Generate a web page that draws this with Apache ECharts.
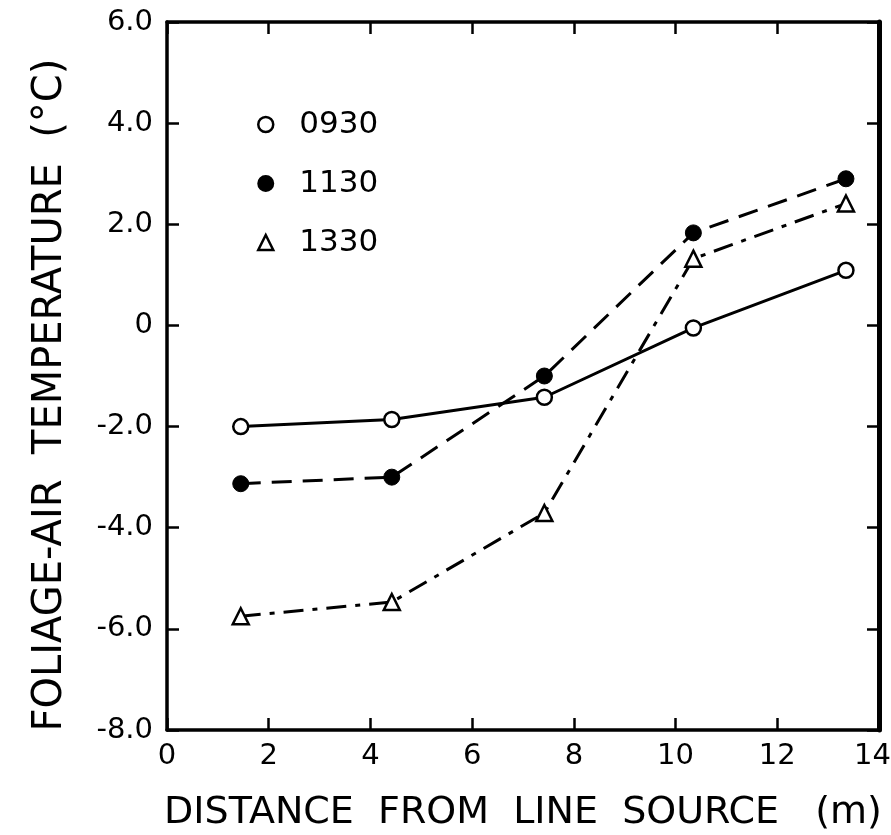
<!DOCTYPE html>
<html>
<head>
<meta charset="utf-8">
<script src="https://cdn.jsdelivr.net/npm/echarts@6/dist/echarts.min.js"></script>
<style>html,body{margin:0;padding:0;background:#fff;}#c{width:891px;height:835px;}</style>
</head>
<body>
<div id="c"></div>
<script>
const distance = [1.45, 4.42, 7.42, 10.35, 13.35];
const t0930 = [-2.0, -1.86, -1.42, -0.05, 1.09];
const t1130 = [-3.13, -3.0, -1.0, 1.83, 2.9];
const t1330 = [-5.75, -5.47, -3.71, 1.32, 2.41];
const seriesNames = ['0930', '1130', '1330'];
const xTicks = [0, 2, 4, 6, 8, 10, 12, 14];
const yTicks = [-8, -6, -4, -2, 0, 2, 4, 6];

const pairs = (xs, ys) => xs.map((x, i) => [x, ys[i]]);
const FONT = 'DejaVu Sans';
const chart = echarts.init(document.getElementById('c'), null, {renderer: 'canvas'});

const axisCommon = {
  axisLine: {show: true, onZero: false, lineStyle: {color: '#000', width: 3.5}},
  axisTick: {show: true, inside: true, length: 12, lineStyle: {color: '#000', width: 2.5}},
  splitLine: {show: false}
};

const openStyle = {color: '#fff', borderColor: '#000', borderWidth: 2.5};
const fillStyle = {color: '#000', borderColor: '#000', borderWidth: 1};
const xMax = xTicks[xTicks.length - 1];

chart.setOption({
  backgroundColor: '#fff',
  animation: false,
  grid: {left: 167, right: 12, top: 22, bottom: 105, containLabel: false, outerBoundsMode: 'none'},
  legend: {
    orient: 'vertical', left: 252, top: 104, itemGap: 28,
    itemWidth: 15, itemHeight: 15,
    textStyle: {fontFamily: FONT, fontSize: 31, color: '#000', padding: [0, 0, 0, 21]},
    data: [
      {name: '0930', icon: 'circle', itemStyle: openStyle},
      {name: '1130', icon: 'circle', itemStyle: {color: '#000'}},
      {name: '1330', icon: 'triangle', itemStyle: openStyle}
    ]
  },
  xAxis: [
    Object.assign({}, axisCommon, {
      type: 'value', min: xTicks[0], max: xMax, interval: 2, position: 'bottom',
      axisLabel: {fontFamily: FONT, fontSize: 29, color: '#000', margin: 12,
        alignMaxLabel: 'right',
        formatter: v => v === xMax ? '{e|' + v + '}' : String(v),
        rich: {e: {fontFamily: FONT, fontSize: 29, color: '#000', padding: [0, -12, 0, 0]}}},
      name: 'DISTANCE  FROM  LINE  SOURCE   (m)', nameLocation: 'middle', nameGap: 64,
      nameTextStyle: {fontFamily: FONT, fontSize: 38, color: '#000'}
    }),
    Object.assign({}, axisCommon, {
      type: 'value', min: xTicks[0], max: xMax, interval: 2, position: 'top',
      axisLabel: {show: false}
    })
  ],
  yAxis: [
    Object.assign({}, axisCommon, {
      type: 'value', min: yTicks[0], max: yTicks[yTicks.length - 1], interval: 2, position: 'left',
      axisLabel: {fontFamily: FONT, fontSize: 29, color: '#000', margin: 14,
        formatter: v => v === 0 ? '0' : v.toFixed(1)},
      name: 'FOLIAGE-AIR  TEMPERATURE  (°C)   ', nameLocation: 'middle', nameGap: 96,
      nameTextStyle: {fontFamily: FONT, fontSize: 40, color: '#000'}
    }),
    Object.assign({}, axisCommon, {
      type: 'value', min: yTicks[0], max: yTicks[yTicks.length - 1], interval: 2, position: 'right',
      axisLabel: {show: false},
      axisLine: {show: true, onZero: false, lineStyle: {color: '#000', width: 5}}
    })
  ],
  series: [
    {
      name: seriesNames[0], type: 'line', data: pairs(distance, t0930),
      symbol: 'circle', symbolSize: 15, itemStyle: openStyle,
      lineStyle: {color: '#000', width: 3, type: 'solid'}, z: 3
    },
    {
      name: seriesNames[1], type: 'line', data: pairs(distance, t1130),
      symbol: 'circle', symbolSize: 16, itemStyle: fillStyle,
      lineStyle: {color: '#000', width: 3, type: [20, 11]}, z: 3
    },
    {
      name: seriesNames[2], type: 'line', data: pairs(distance, t1330),
      symbol: 'triangle', symbolSize: 16, itemStyle: openStyle,
      lineStyle: {color: '#000', width: 3, type: [20, 9, 5, 9]}, z: 3
    }
  ]
});
</script>
</body>
</html>
